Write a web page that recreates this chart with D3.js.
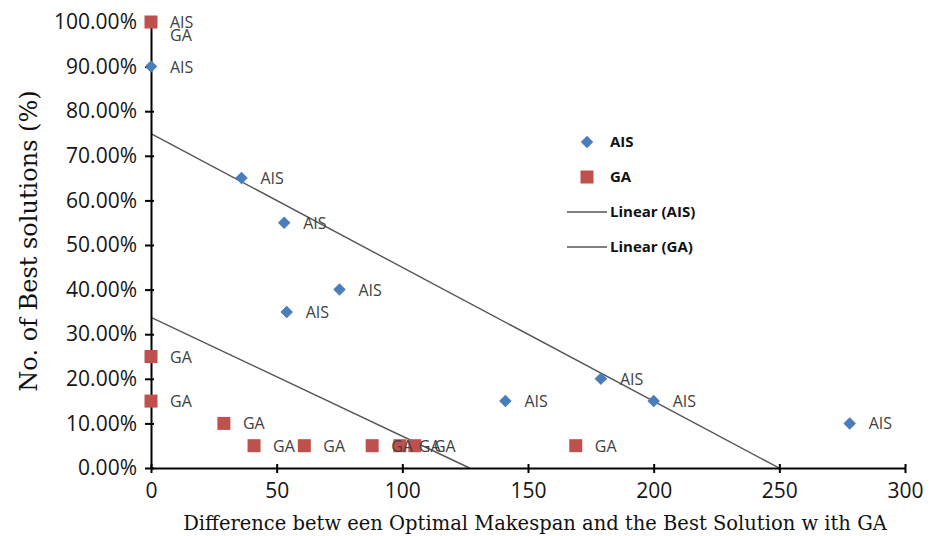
<!DOCTYPE html>
<meta charset="utf-8">
<style>
body{ margin:0; background:#fff; }
svg text{ font-family:"Open Sans", sans-serif; }
.tick text{ font-size:21px; fill:#151515; }
.domain, .tick line{ stroke:#000; stroke-width:2px; }
.ptlabel{ font-size:16px; fill:#404040; }
.legend text{ font-size:15px; font-weight:bold; fill:#111; }
.title{ font-family:"DejaVu Serif", serif !important; fill:#111; }
.trend{ stroke:#555; stroke-width:1.4px; fill:none; }
</style>
<body>
<script src="https://cdnjs.cloudflare.com/ajax/libs/d3/7.8.5/d3.min.js"></script>
<script>
// difference (x) and share of best solutions (y)
var aisX = [0, 0, 36, 53, 75, 54, 141, 179, 200, 278];
var aisY = [1.00, 0.90, 0.65, 0.55, 0.40, 0.35, 0.15, 0.20, 0.15, 0.10];
var gaX = [0, 0, 0, 29, 41, 61, 88, 99, 105, 169];
var gaY = [1.00, 0.25, 0.15, 0.10, 0.05, 0.05, 0.05, 0.05, 0.05, 0.05];
var xTicks = [0, 50, 100, 150, 200, 250, 300];
var yTicks = [0, 0.1, 0.2, 0.3, 0.4, 0.5, 0.6, 0.7, 0.8, 0.9, 1.0];
var legendItems = ["AIS", "GA", "Linear (AIS)", "Linear (GA)"];

var W = 935, H = 536;
var svg = d3.select("body").append("svg").attr("width", W).attr("height", H);

var x = d3.scaleLinear().domain([0, 300]).range([151, 905]);
var y = d3.scaleLinear().domain([0, 1]).range([468, 22]);

var blue = "#4a7ebb", red = "#c0504d";

function fit(xs, ys){
  var mx = d3.mean(xs), my = d3.mean(ys), sxy = 0, sxx = 0;
  xs.forEach(function(v, i){ sxy += (v - mx) * (ys[i] - my); sxx += (v - mx) * (v - mx); });
  var b = sxy / sxx;
  return {a: my - b * mx, b: b};
}

// trend lines, clipped at y = 0
[fit(aisX, aisY), fit(gaX, gaY)].forEach(function(f){
  var xEnd = Math.min(300, -f.a / f.b);
  svg.append("line").attr("class", "trend")
    .attr("x1", x(0)).attr("y1", y(f.a))
    .attr("x2", x(xEnd)).attr("y2", y(f.a + f.b * xEnd));
});

// axes, ticks cross the axis line
var gx = svg.append("g").attr("transform", "translate(0," + y(0) + ")")
  .call(d3.axisBottom(x).tickValues(xTicks).tickSize(5).tickSizeOuter(0).tickPadding(10));
gx.selectAll(".tick line").attr("y1", -4);
var gy = svg.append("g").attr("transform", "translate(" + x(0) + ",0)")
  .call(d3.axisLeft(y).tickValues(yTicks).tickFormat(d3.format(".2%")).tickSize(6).tickSizeOuter(0).tickPadding(8));
gy.selectAll(".tick line").attr("x2", -6).attr("x1", 3);

var ais = aisX.map(function(v, i){ return {x: v, y: aisY[i]}; });
var ga = gaX.map(function(v, i){ return {x: v, y: gaY[i]}; });

svg.append("g").selectAll("path").data(ais).enter().append("path")
  .attr("d", d3.symbol().type(d3.symbolDiamond2).size(100))
  .attr("transform", function(d){ return "translate(" + x(d.x) + "," + y(d.y) + ")"; })
  .attr("fill", blue);

svg.append("g").selectAll("rect").data(ga).enter().append("rect")
  .attr("x", function(d){ return x(d.x) - 6.5; }).attr("y", function(d){ return y(d.y) - 6.5; })
  .attr("width", 13).attr("height", 13).attr("fill", red);

// data labels; a GA label that sits on an AIS point goes one line down
function same(d){ return ais.some(function(a){ return a.x == d.x && a.y == d.y; }); }
svg.append("g").selectAll("text").data(ais).enter().append("text").attr("class", "ptlabel")
  .attr("x", function(d){ return x(d.x) + 19; }).attr("y", function(d){ return y(d.y) + 6; })
  .text("AIS");
svg.append("g").selectAll("text").data(ga).enter().append("text").attr("class", "ptlabel")
  .attr("x", function(d){ return x(d.x) + 19; })
  .attr("y", function(d){ return y(d.y) + 6 + (same(d) ? 13 : 0); })
  .text("GA");

// legend
var lg = svg.append("g").attr("class", "legend");
legendItems.forEach(function(t, i){
  var cy = 142 + i * 35;
  if (i == 0) lg.append("path").attr("d", d3.symbol().type(d3.symbolDiamond2).size(100))
    .attr("transform", "translate(587," + cy + ")").attr("fill", blue);
  else if (i == 1) lg.append("rect").attr("x", 580.5).attr("y", cy - 6.5).attr("width", 13).attr("height", 13).attr("fill", red);
  else lg.append("line").attr("class", "trend").attr("x1", 567).attr("x2", 607).attr("y1", cy).attr("y2", cy);
  lg.append("text").attr("x", 610).attr("y", cy + 5).text(t);
});

// axis titles
svg.append("text").attr("class", "title").attr("text-anchor", "middle")
  .style("font-size", "19.5px")
  .attr("x", 535).attr("y", 530)
  .text("Difference betw een Optimal Makespan and the Best Solution w ith GA");
svg.append("text").attr("class", "title").attr("text-anchor", "middle")
  .style("font-size", "24px")
  .attr("transform", "translate(37,241) rotate(-90)")
  .text("No. of Best solutions (%)");
</script>
</body>
